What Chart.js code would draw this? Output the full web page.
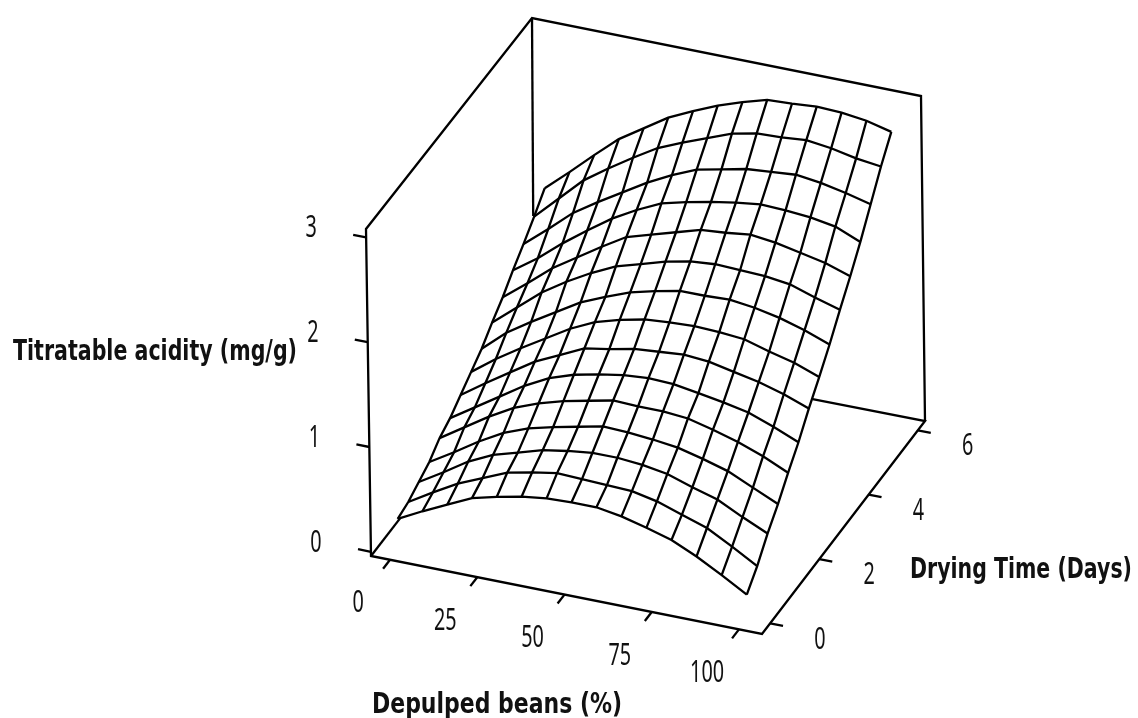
<!DOCTYPE html>
<html>
<head>
<meta charset="utf-8">
<title>Titratable acidity</title>
<script src="https://cdn.jsdelivr.net/npm/chart.js@4"></script>
<style>
    html, body { margin: 0; background: #fff; }
    canvas { display: block; }
</style>
</head>
<body>
<canvas id="grafico" width="1138" height="718"></canvas>
<script>
const depulped = [0, 7.14, 14.29, 21.43, 28.57, 35.71, 42.86, 50, 57.14, 64.29, 71.43, 78.57, 85.71, 92.86, 100];
const dryingTime = [0, 0.43, 0.86, 1.29, 1.71, 2.14, 2.57, 3, 3.43, 3.86, 4.29, 4.71, 5.14, 5.57, 6];

// titratable acidity, one list per drying time
const acidity00 = [0.25, 0.37, 0.48, 0.59, 0.65, 0.70, 0.73, 0.74, 0.74, 0.70, 0.64, 0.57, 0.46, 0.33, 0.19];
const acidity01 = [0.28, 0.42, 0.55, 0.65, 0.75, 0.80, 0.84, 0.83, 0.82, 0.81, 0.76, 0.68, 0.60, 0.47, 0.33];
const acidity02 = [0.34, 0.48, 0.63, 0.74, 0.81, 0.88, 0.92, 0.95, 0.95, 0.93, 0.89, 0.81, 0.74, 0.62, 0.51];
const acidity03 = [0.40, 0.54, 0.69, 0.82, 0.91, 0.97, 1.02, 1.07, 1.06, 1.04, 1.01, 0.95, 0.88, 0.77, 0.66];
const acidity04 = [0.50, 0.65, 0.80, 0.93, 1.02, 1.09, 1.14, 1.19, 1.18, 1.18, 1.16, 1.10, 1.03, 0.94, 0.83];
const acidity05 = [0.56, 0.71, 0.86, 1.01, 1.13, 1.21, 1.26, 1.30, 1.32, 1.31, 1.27, 1.23, 1.18, 1.09, 0.99];
const acidity06 = [0.65, 0.81, 0.96, 1.11, 1.22, 1.33, 1.37, 1.42, 1.44, 1.46, 1.44, 1.39, 1.34, 1.27, 1.18];
const acidity07 = [0.74, 0.91, 1.06, 1.20, 1.34, 1.45, 1.52, 1.57, 1.59, 1.60, 1.59, 1.57, 1.50, 1.44, 1.35];
const acidity08 = [0.83, 1.03, 1.18, 1.32, 1.46, 1.56, 1.65, 1.71, 1.76, 1.76, 1.77, 1.74, 1.69, 1.62, 1.53];
const acidity09 = [0.95, 1.14, 1.33, 1.48, 1.61, 1.72, 1.79, 1.86, 1.91, 1.93, 1.92, 1.91, 1.88, 1.80, 1.73];
const acidity10 = [1.06, 1.24, 1.43, 1.58, 1.73, 1.87, 1.94, 2.01, 2.08, 2.10, 2.13, 2.10, 2.05, 2.00, 1.92];
const acidity11 = [1.19, 1.35, 1.54, 1.71, 1.87, 2.00, 2.11, 2.17, 2.22, 2.26, 2.29, 2.28, 2.26, 2.22, 2.12];
const acidity12 = [1.31, 1.50, 1.70, 1.85, 1.99, 2.13, 2.25, 2.35, 2.40, 2.45, 2.47, 2.49, 2.46, 2.41, 2.35];
const acidity13 = [1.44, 1.66, 1.88, 2.04, 2.19, 2.33, 2.43, 2.52, 2.61, 2.66, 2.67, 2.69, 2.66, 2.61, 2.58];
const acidity14 = [1.58, 1.78, 1.99, 2.19, 2.34, 2.49, 2.60, 2.70, 2.78, 2.85, 2.86, 2.88, 2.87, 2.84, 2.78];

const depulpedTicks = [0, 25, 50, 75, 100];
const dryingTicks = [0, 2, 4, 6];
const acidityTicks = [0, 1, 2, 3];

const acidity = [
    acidity00, acidity01, acidity02, acidity03, acidity04,
    acidity05, acidity06, acidity07, acidity08, acidity09,
    acidity10, acidity11, acidity12, acidity13, acidity14
];

// box limits and where its corners land on the page
const xMin = -5.45, xMax = 106.6;
const yMin = -0.33, yMax = 6.29;
const zMin = -0.04, zMax = 3.08;
const base = [[371, 556], [762, 634], [534, 345], [925, 421]];
const top_ = [[366, 229], [758, 307], [532, 18], [921, 96]];

function mix(a, b, t) {
    return a + (b - a) * t;
}

function project(x, y, z) {
    const u = (x - xMin) / (xMax - xMin);
    const v = (y - yMin) / (yMax - yMin);
    const w = (z - zMin) / (zMax - zMin);
    const corner = function (c, k) {
        return mix(mix(c[0][k], c[1][k], u), mix(c[2][k], c[3][k], u), v);
    };
    return {
        x: mix(corner(base, 0), corner(top_, 0), w),
        y: mix(corner(base, 1), corner(top_, 1), w)
    };
}

function linha(points) {
    return {
        type: "scatter",
        showLine: true,
        data: points,
        borderColor: "#000",
        borderWidth: 2.3,
        pointRadius: 0,
        tension: 0,
        clip: false
    };
}

const datasets = [];

// box, only the parts the surface does not cover
datasets.push(linha([
    project(xMax, yMax, zMin), project(xMax, yMax, zMax), project(xMin, yMax, zMax),
    project(xMin, yMin, zMax), project(xMin, yMin, zMin), project(xMax, yMin, zMin),
    project(xMax, yMax, zMin), project(74.4, yMax, zMin)
]));
datasets.push(linha([project(xMin, yMax, zMax), project(xMin, yMax, 1.19)]));
datasets.push(linha([project(xMin, yMin, zMin), project(xMin, 0.85, zMin)]));

depulpedTicks.forEach(function (t) {
    datasets.push(linha([project(t, yMin, zMin), project(t, yMin - 0.28, zMin)]));
});
dryingTicks.forEach(function (t) {
    datasets.push(linha([project(xMax, t, zMin), project(xMax + 3.7, t, zMin)]));
});
acidityTicks.forEach(function (t) {
    datasets.push(linha([project(xMin, yMin, t), project(xMin - 3.7, yMin, t)]));
});

// surface mesh
acidity.forEach(function (row, j) {
    datasets.push(linha(row.map(function (z, i) {
        return project(depulped[i], dryingTime[j], z);
    })));
});
depulped.forEach(function (x, i) {
    datasets.push(linha(acidity.map(function (row, j) {
        return project(x, dryingTime[j], row[i]);
    })));
});

function texto(ctx, text, x, y, font, scaleX) {
    ctx.save();
    ctx.font = font;
    ctx.fillStyle = "#111";
    ctx.textAlign = "center";
    ctx.textBaseline = "middle";
    ctx.translate(x, y);
    ctx.scale(scaleX, 1);
    ctx.fillText(text, 0, 0);
    ctx.restore();
}

function titulo(ctx, text, left, right, y) {
    const font = "bold 28px 'DejaVu Sans'";
    ctx.font = font;
    texto(ctx, text, (left + right) / 2, y, font, (right - left) / ctx.measureText(text).width);
}

const rotulos = {
    id: "rotulos",
    afterDraw: function (chart) {
        const ctx = chart.ctx;
        const font = "30px 'Noto Sans'";
        const sx = chart.scales.x;
        const sy = chart.scales.y;
        const put = function (text, p, dx, dy) {
            texto(ctx, text, sx.getPixelForValue(p.x) + dx, sy.getPixelForValue(p.y) + dy, font, 0.66);
        };
        depulpedTicks.forEach(function (t) {
            put(String(t), project(t, yMin - 0.28, zMin), -25, 35);
        });
        dryingTicks.forEach(function (t) {
            put(String(t), project(xMax + 3.7, t, zMin), 37, 14);
        });
        acidityTicks.forEach(function (t) {
            put(String(t), project(xMin - 3.7, yMin, t), -42, -6);
        });
        titulo(ctx, "Titratable acidity (mg/g)", 13, 297, 353);
        titulo(ctx, "Drying Time (Days)", 910, 1132, 571);
        titulo(ctx, "Depulped beans (%)", 372, 622, 706);
    }
};

document.addEventListener("DOMContentLoaded", function () {
    new Chart(document.getElementById("grafico"), {
        type: "scatter",
        data: { datasets: datasets },
        options: {
            responsive: false,
            animation: false,
            layout: { padding: 0 },
            plugins: {
                legend: { display: false },
                tooltip: { enabled: false }
            },
            scales: {
                x: { type: "linear", display: false, min: 0, max: 1138 },
                y: { type: "linear", display: false, min: 0, max: 718, reverse: true }
            }
        },
        plugins: [rotulos]
    });
});
</script>
</body>
</html>
